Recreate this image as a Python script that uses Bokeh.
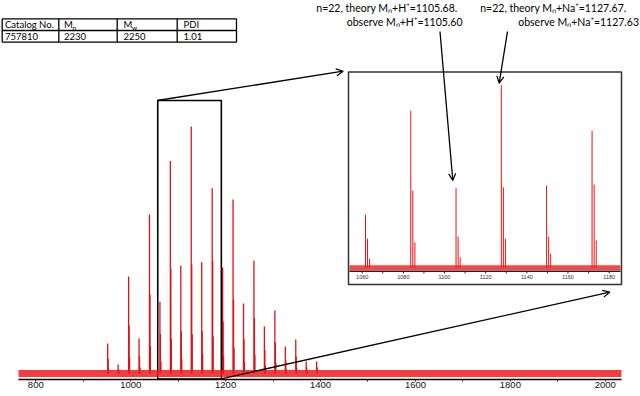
from bokeh.plotting import figure
from bokeh.models import Range1d, Arrow, OpenHead, FixedTicker, ColumnDataSource, BoxAnnotation
from bokeh.embed import file_html
from bokeh.resources import INLINE
from bokeh.core.properties import value

# ---------------- data ----------------
peak_mz = [951.5, 973.5, 995.6, 1017.6, 1039.6, 1061.6, 1083.6, 1105.6, 1127.6, 1149.6,
           1171.7, 1193.7, 1215.7, 1237.7, 1259.7, 1281.7, 1303.8, 1325.8, 1347.8, 1369.8, 1391.8]
peak_h0 = [12.1, 3.6, 39.3, 14.2, 64.4, 29.0, 86.0, 43.6, 100.0, 45.0,
           75.0, 42.9, 70.4, 28.3, 45.7, 19.0, 25.5, 10.9, 13.8, 4.9, 4.9]
peak_h1 = [6.0, 1.8, 19.5, 7.0, 32.0, 16.0, 42.3, 17.1, 44.1, 17.1,
           45.6, 21.0, 30.0, 14.0, 22.5, 9.5, 12.5, 5.4, 6.9, 2.4, 2.4]
peak_h2 = [2.0, 0.6, 6.5, 2.4, 11.0, 5.0, 14.0, 5.8, 15.9, 7.7,
           15.0, 7.0, 10.5, 4.8, 7.6, 3.2, 4.3, 1.8, 2.3, 0.8, 0.8]
isotope_offset = [0.0, 1.0, 2.0]
noise_level = [-1.4, 1.4]

main_window = [763.6, 2034.1]          # extent of the main m/z axis
main_ticks = [800, 1000, 1200, 1400, 1600, 1800, 2000]
main_minor = [900, 1100, 1300, 1500, 1700, 1900]
inset_window = [1053.8, 1185.5]        # extent of the zoomed view
inset_ticks = [1060, 1080, 1100, 1120, 1140, 1160, 1180]
inset_minor = [1070, 1090, 1110, 1130, 1150, 1170]
zoom_window = [1057, 1191]             # rectangle marked on the main spectrum

table_header = ["Catalog No.", "M", "M", "PDI"]
table_header_sub = ["", "n", "w", ""]
table_values = ["757810", "2230", "2250", "1.01"]
note_h = ["n=22, theory M\u2099+H\u207a=1105.68.", "observe M\u2099+H\u207a=1105.60"]
note_na = ["n=22, theory M\u2099+Na\u207a=1127.67.", "observe M\u2099+Na\u207a=1127.63"]

# ---------------- sources ----------------
lx, ly = [], []
for mz, a, b, c in zip(peak_mz, peak_h0, peak_h1, peak_h2):
    for off, h in zip(isotope_offset[::-1], (c, b, a)):
        lx.append(mz + off)
        ly.append(h)
lines = ColumnDataSource(dict(x=lx, y0=[0.0] * len(lx), y1=ly))
ix_sel = [i for i, x in enumerate(lx) if inset_window[0] <= x <= inset_window[1]]
inset_lines = ColumnDataSource(dict(x=[lx[i] for i in ix_sel], y0=[0.0] * len(ix_sel),
                                    y1=[ly[i] for i in ix_sel]))

W, H = 640, 396
RED = "#dc1216"
INSET_RED = "#f01010"
NOISE = "#f21c1c"

# ---------------- figure ----------------
# frame spans the whole width; main m/z scale: 1000 -> 130.2 px, 0.4746 px per unit
p = figure(width=W, height=H, x_range=Range1d(725.66, 2074.2), y_range=Range1d(-2.43, 151.0),
           output_backend="svg", toolbar_location=None, y_axis_location=None,
           min_border_left=0, min_border_right=0, min_border_top=0, min_border_bottom=17)
# "px": page-like coordinates for annotations; "ix"/"iy": scales of the zoomed inset
p.extra_x_ranges = {"px": Range1d(0, 640), "ix": Range1d(884.25, 1195.23)}
p.extra_y_ranges = {"px": Range1d(379, 0), "iy": Range1d(-61.17, 146.39)}
p.grid.visible = False
p.outline_line_color = None

I = dict(x_range_name="ix", y_range_name="iy")
PX = dict(x_range_name="px", y_range_name="px")

# inset panel background and frame
p.quad(left=348, right=621, top=71.5, bottom=284, fill_color="white", line_color="#333",
       line_width=1.5, **PX)

# main spectrum
p.add_layout(BoxAnnotation(left=main_window[0], right=main_window[1],
                           bottom=noise_level[0], top=noise_level[1], fill_color=NOISE,
                           fill_alpha=0.85, line_color=None))
p.segment(x0="x", y0="y0", x1="x", y1="y1", source=lines, line_color=RED, line_width=1.3)
p.quad(left=zoom_window[0], right=zoom_window[1], bottom=-2.2, top=110.5,
       fill_color=None, line_color="black", line_width=1.6)

ax = p.xaxis[0]
ax.bounds = (main_window[0], main_window[1])
ax.ticker = FixedTicker(ticks=main_ticks, minor_ticks=main_minor)
ax.axis_line_width = 1.6
ax.axis_line_color = "black"
ax.major_tick_out = 2
ax.major_tick_in = 0
ax.minor_tick_out = 2
ax.minor_tick_in = 0
ax.major_tick_line_color = "#222"
ax.minor_tick_line_color = "#222"
ax.major_label_standoff = 0
ax.axis_label_standoff = 0
ax.major_label_text_font = "Liberation Sans"
ax.major_label_text_font_size = "9.5px"
ax.major_label_text_color = "#111"

# ---------------- inset (zoomed view) ----------------
p.add_layout(BoxAnnotation(left=inset_window[0], right=inset_window[1],
                           bottom=noise_level[0], top=noise_level[1], fill_color=NOISE,
                           fill_alpha=0.8, line_color=None, **I))
p.segment(x0="x", y0="y0", x1="x", y1="y1", source=inset_lines, line_color=INSET_RED,
          line_width=1, **I)
# inset x axis (line, ticks, labels through the inset scale)
p.segment(x0=[inset_window[0]], y0=[-1.86], x1=[inset_window[1]], y1=[-1.86],
          line_color="#222", line_width=1.5, **I)
all_ticks = inset_ticks + inset_minor
p.segment(x0=all_ticks, y0=[-1.86] * len(all_ticks), x1=all_ticks, y1=[-3.1] * len(all_ticks),
          line_color="#222", line_width=1, **I)
p.text(x=inset_ticks, y=[-5.3] * len(inset_ticks), text=[str(t) for t in inset_ticks],
       text_font=value("Liberation Sans"), text_font_size="5.5px", text_align="center",
       text_baseline="middle", text_color="#333", **I)

# ---------------- table ----------------
tx0, tx1, ty0, ty1, tmid = 1.7, 236, 18.3, 41.7, 30.0
col_lines = [1.7, 58.3, 116.7, 176.7, 236]
p.segment(x0=[tx0] * 3, y0=[ty0, tmid, ty1], x1=[tx1] * 3, y1=[ty0, tmid, ty1],
          line_color="black", line_width=1.3, **PX)
p.segment(x0=col_lines, y0=[ty0] * 5, x1=col_lines, y1=[ty1] * 5, line_color="black",
          line_width=1.3, **PX)
col_x = [4.5, 63.5, 123, 183]
TF = value("Lato")
p.text(x=col_x, y=[24.4] * 4, text=table_header, text_font=TF, text_font_size="9.5px",
       text_baseline="middle", text_color="black", **PX)
sub_x = [cx + 8.6 for cx, s in zip(col_x, table_header_sub) if s]
sub_t = [s for s in table_header_sub if s]
p.text(x=sub_x, y=[27.3] * len(sub_t), text=sub_t, text_font=TF, text_font_size="6.5px",
       text_baseline="middle", text_color="black", **PX)
p.text(x=col_x, y=[36.0] * 4, text=table_values, text_font=TF, text_font_size="9.5px",
       text_baseline="middle", text_color="black", **PX)

# ---------------- notes ----------------
p.text(x=[457, 462], y=[7.5, 21], text=note_h, text_font=TF, text_font_size="10.5px",
       text_baseline="middle", text_align="right", text_color="black", **PX)
p.text(x=[626, 638.5], y=[7.5, 21], text=note_na, text_font=TF, text_font_size="10.5px",
       text_baseline="middle", text_align="right", text_color="black", **PX)

def arrow(x0, y0, x1, y1):
    p.add_layout(Arrow(end=OpenHead(size=7, line_width=1.2, line_color="black"),
                       x_start=x0, y_start=y0, x_end=x1, y_end=y1,
                       line_width=1.3, line_color="black", x_range_name="px", y_range_name="px"))

arrow(156.7, 100, 342.7, 70.7)
arrow(220.7, 378.3, 609.3, 291.7)
arrow(439.5, 31, 452.3, 180)
arrow(507, 31, 498.7, 82.7)

open("out.html", "w").write(file_html(p, INLINE))
